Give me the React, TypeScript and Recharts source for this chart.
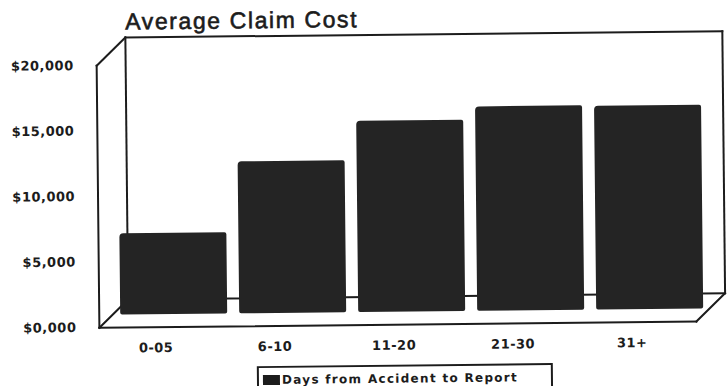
import { Bar, BarChart, Rectangle, XAxis, YAxis } from "recharts";

const categories = ["0-05", "6-10", "11-20", "21-30", "31+"];
const avgClaimCost = [6200, 11600, 14600, 15600, 15550];
const yTicks = [0, 5000, 10000, 15000, 20000];
const legendLabel = "Days from Accident to Report";

const data = categories.map((days, i) => ({ days, cost: avgClaimCost[i] }));

const W = 727;
const H = 386;
// plot plane where the bars stand (mid depth of the 3d box)
const xAxisH = 30;
const margin = { top: 50, right: 19, bottom: 74 - xAxisH, left: 0 };
const axisW = 113;
// 3d box: front plane and depth offset
const front = { left: 98, right: 695, top: 63, bottom: 325 };
const depth = { dx: 29, dy: -28 };
const shift = { x: -18, y: 13 }; // bar plane -> front plane labels
const ink = "#1c1c1c";
const labelFont = "'DejaVu Sans', Verdana, sans-serif";

const money = (v: number) => (v === 0 ? "$0,000" : "$" + v.toLocaleString("en-US"));

function YTick({ x, y, payload }: any) {
  return (
    <text x={x} y={y + shift.y} dy={4} textAnchor="end" fontFamily={labelFont} fontWeight={700} fontSize={13} letterSpacing={0.5} fill={ink}>
      {money(payload.value)}
    </text>
  );
}

function XTick({ x, y, payload }: any) {
  return (
    <text x={x + shift.x} y={y + 30} textAnchor="middle" fontFamily={labelFont} fontWeight={700} fontSize={13} letterSpacing={0.5} fill={ink}>
      {payload.value}
    </text>
  );
}

function Box() {
  const b = { left: front.left + depth.dx, right: front.right + depth.dx, top: front.top + depth.dy, bottom: front.bottom + depth.dy };
  const lines = [
    [front.left, front.top, front.left, front.bottom],
    [front.left, front.top, b.left, b.top],
    [b.left, b.top, b.right, b.top],
    [b.left, b.top, b.left, b.bottom],
    [b.right, b.top, b.right, b.bottom],
    [b.left, b.bottom, b.right, b.bottom],
    [front.left, front.bottom, front.right, front.bottom],
    [front.right, front.bottom, b.right, b.bottom],
    [front.left, front.bottom, b.left, b.bottom],
  ];
  return (
    <svg width={W} height={H} style={{ position: "absolute", left: 0, top: 0 }}>
      {lines.map(([x1, y1, x2, y2], i) => (
        <line key={i} x1={x1} y1={y1} x2={x2} y2={y2} stroke={ink} strokeWidth={2} strokeLinecap="square" />
      ))}
      <text x={b.left} y={27} fontFamily="'Liberation Sans', Arial, sans-serif" fontSize={23} letterSpacing={1.6} fill={ink} stroke={ink} strokeWidth={0.6}>
        Average Claim Cost
      </text>
    </svg>
  );
}

export default function App() {
  return (
    <div style={{ position: "absolute", left: 0, top: 0, width: W, height: H, background: "#fff", overflow: "hidden" }}>
      <div style={{ position: "absolute", left: 0, top: 0, width: W, height: H, transform: "rotate(-0.6deg)" }}>
        <Box />
        <div style={{ position: "absolute", left: 0, top: 0 }}>
          <BarChart width={W} height={H} data={data} margin={margin} barCategoryGap="5%">
            <XAxis dataKey="days" height={xAxisH} axisLine={false} tickLine={false} tick={<XTick />} interval={0} />
            <YAxis width={axisW} domain={[0, 20000]} ticks={yTicks} axisLine={false} tickLine={false} tickMargin={32} tick={<YTick />} interval={0} />
            <Bar dataKey="cost" fill="#242424" isAnimationActive={false} shape={(p: any) => <Rectangle {...p} radius={[4, 2, 2, 2]} />} />
          </BarChart>
        </div>
        <div
          style={{
            position: "absolute",
            left: 255,
            top: 365,
            width: 296,
            height: 30,
            border: `2px solid ${ink}`,
            boxSizing: "border-box",
            display: "flex",
            alignItems: "flex-start",
            paddingTop: 6,
            paddingLeft: 4,
            fontFamily: labelFont,
            fontWeight: 700,
            fontSize: 12,
            lineHeight: "12px",
            letterSpacing: 1.3,
            color: ink,
          }}
        >
          <span style={{ display: "inline-block", width: 17, height: 10, background: ink, marginRight: 2, marginTop: 1 }} />
          <span>{legendLabel}</span>
        </div>
      </div>
    </div>
  );
}
